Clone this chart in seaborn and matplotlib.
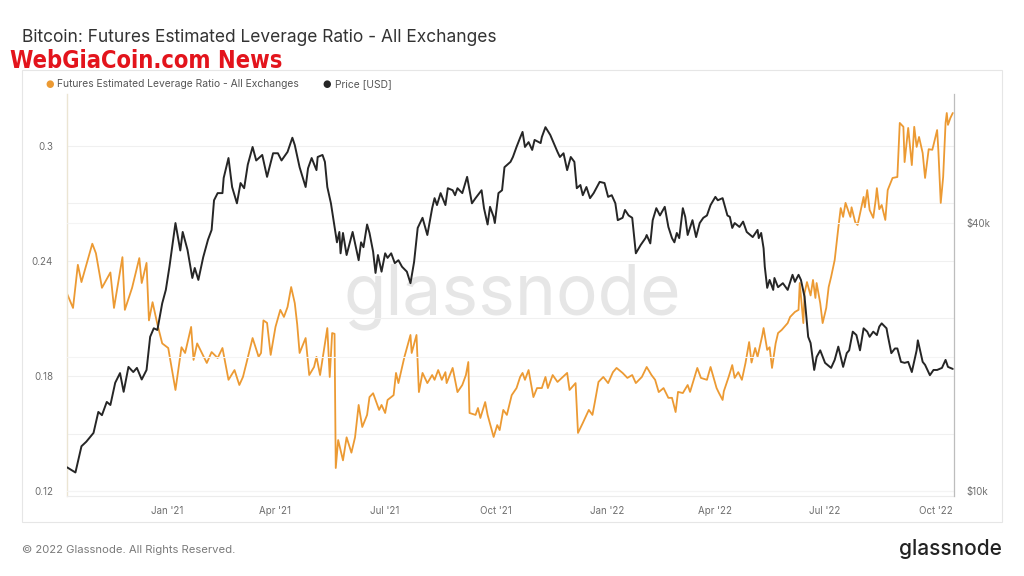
import pandas as pd
import matplotlib
matplotlib.use("Agg")
import matplotlib.pyplot as plt
import matplotlib.dates as mdates
from matplotlib.ticker import FixedLocator, FixedFormatter
from matplotlib.patches import Rectangle
import seaborn as sns

# ==================== DATA ====================
lev_dates = [
    "2020-10-10", "2020-10-15", "2020-10-19", "2020-10-22", "2020-10-31", "2020-11-03", "2020-11-08", "2020-11-15",
    "2020-11-18", "2020-11-25", "2020-11-27", "2020-12-03", "2020-12-09", "2020-12-11", "2020-12-15", "2020-12-17",
    "2020-12-20", "2020-12-24", "2020-12-28",
    "2021-01-02", "2021-01-08", "2021-01-13", "2021-01-16", "2021-01-21", "2021-01-23", "2021-01-26", "2021-02-03",
    "2021-02-07", "2021-02-12", "2021-02-16", "2021-02-21", "2021-02-26", "2021-03-02", "2021-03-05", "2021-03-08",
    "2021-03-13", "2021-03-18", "2021-03-20", "2021-03-22", "2021-03-25", "2021-03-28", "2021-04-01", "2021-04-05",
    "2021-04-08", "2021-04-11", "2021-04-14", "2021-04-17", "2021-04-19", "2021-04-21", "2021-04-26", "2021-04-29",
    "2021-05-03", "2021-05-05", "2021-05-08", "2021-05-14", "2021-05-16", "2021-05-18", "2021-05-20", "2021-05-21",
    "2021-05-23", "2021-05-27", "2021-05-30", "2021-06-03", "2021-06-06", "2021-06-09", "2021-06-12", "2021-06-16",
    "2021-06-18", "2021-06-21", "2021-06-26", "2021-06-28", "2021-07-01", "2021-07-03", "2021-07-08", "2021-07-10",
    "2021-07-12", "2021-07-17", "2021-07-22", "2021-07-23", "2021-07-27", "2021-07-29", "2021-08-01", "2021-08-05",
    "2021-08-09", "2021-08-11", "2021-08-14", "2021-08-17", "2021-08-20", "2021-08-21", "2021-08-26", "2021-08-30",
    "2021-09-03", "2021-09-06", "2021-09-08", "2021-09-09", "2021-09-14", "2021-09-16", "2021-09-18", "2021-09-22",
    "2021-09-24", "2021-09-29", "2021-10-02", "2021-10-04", "2021-10-07", "2021-10-10", "2021-10-14", "2021-10-18",
    "2021-10-21", "2021-10-23", "2021-10-25", "2021-10-28", "2021-11-01", "2021-11-04", "2021-11-08", "2021-11-11",
    "2021-11-13", "2021-11-17", "2021-11-21", "2021-11-29", "2021-12-01", "2021-12-06", "2021-12-08", "2021-12-12",
    "2021-12-17", "2021-12-20", "2021-12-22", "2021-12-25", "2021-12-29",
    "2022-01-02", "2022-01-06", "2022-01-09", "2022-01-14", "2022-01-18", "2022-01-22", "2022-01-25", "2022-01-30",
    "2022-02-03", "2022-02-07", "2022-02-10", "2022-02-13", "2022-02-17", "2022-02-21", "2022-02-24", "2022-02-27",
    "2022-03-01", "2022-03-05", "2022-03-09", "2022-03-11", "2022-03-14", "2022-03-17", "2022-03-20", "2022-03-25",
    "2022-03-28", "2022-04-02", "2022-04-04", "2022-04-07", "2022-04-08", "2022-04-12", "2022-04-15", "2022-04-17",
    "2022-04-20", "2022-04-23", "2022-04-26", "2022-04-29", "2022-05-01", "2022-05-04", "2022-05-06", "2022-05-10",
    "2022-05-11", "2022-05-14", "2022-05-16", "2022-05-18", "2022-05-21", "2022-05-23", "2022-05-26", "2022-05-31",
    "2022-06-02", "2022-06-06", "2022-06-09", "2022-06-10", "2022-06-13", "2022-06-14", "2022-06-16", "2022-06-19",
    "2022-06-21", "2022-06-23", "2022-06-24", "2022-06-27", "2022-06-29", "2022-07-02", "2022-07-04", "2022-07-06",
    "2022-07-09", "2022-07-12", "2022-07-14", "2022-07-16", "2022-07-18", "2022-07-22", "2022-07-23", "2022-07-26",
    "2022-07-28", "2022-08-02", "2022-08-03", "2022-08-05", "2022-08-07", "2022-08-10", "2022-08-12", "2022-08-13",
    "2022-08-15", "2022-08-17", "2022-08-20", "2022-08-22", "2022-08-26", "2022-08-30", "2022-09-01", "2022-09-04",
    "2022-09-05", "2022-09-08", "2022-09-11", "2022-09-13", "2022-09-15", "2022-09-17", "2022-09-20", "2022-09-22",
    "2022-09-25", "2022-09-28", "2022-09-29", "2022-10-02", "2022-10-03", "2022-10-05", "2022-10-07", "2022-10-09",
    "2022-10-10", "2022-10-11", "2022-10-13", "2022-10-15",
]
lev_values = [
    0.223, 0.2155, 0.238, 0.229, 0.249, 0.244, 0.226, 0.234,
    0.2155, 0.242, 0.2145, 0.226, 0.2415, 0.2285, 0.239, 0.209,
    0.2185, 0.207, 0.197,
    0.1946, 0.1727, 0.195, 0.192, 0.2056, 0.1884, 0.197, 0.1868,
    0.1925, 0.1894, 0.1946, 0.178, 0.1831, 0.1753, 0.1795, 0.187,
    0.1998, 0.19, 0.192, 0.209, 0.2077, 0.191, 0.2056, 0.2145,
    0.2108, 0.216, 0.2264, 0.218, 0.207, 0.192, 0.1998, 0.1805,
    0.1847, 0.19, 0.1805, 0.205, 0.1795, 0.2024, 0.202, 0.132,
    0.1466, 0.136, 0.148, 0.140, 0.148, 0.1649, 0.1534, 0.1597,
    0.169, 0.171, 0.1623, 0.1649, 0.1607, 0.1675, 0.170, 0.1816,
    0.1763, 0.19, 0.2014, 0.192, 0.2014, 0.1716, 0.1816, 0.1763,
    0.1805, 0.178, 0.1831, 0.178, 0.182, 0.1763, 0.1842, 0.1716,
    0.1753, 0.1805, 0.1873, 0.1607, 0.1597, 0.1633, 0.1581, 0.1664,
    0.1597, 0.1482, 0.1544, 0.1518, 0.1623, 0.1597, 0.170, 0.1737,
    0.1795, 0.1816, 0.178, 0.1831, 0.169, 0.1737, 0.1737, 0.1795,
    0.1737, 0.1805, 0.1769, 0.1816, 0.1727, 0.1763, 0.1503, 0.1555,
    0.1623, 0.1597, 0.1664, 0.1769, 0.1795,
    0.1763, 0.182, 0.1842, 0.1816, 0.179, 0.1805, 0.1763, 0.1795,
    0.1847, 0.1805, 0.178, 0.1716, 0.1737, 0.1686, 0.1686, 0.1612,
    0.1717, 0.1711, 0.1753, 0.1717, 0.178, 0.1842, 0.179, 0.178,
    0.1847, 0.1737, 0.1711, 0.1675, 0.172, 0.1795, 0.1857, 0.179,
    0.182, 0.178, 0.1868, 0.1977, 0.187, 0.1946, 0.19, 0.2014,
    0.205, 0.1936, 0.195, 0.1842, 0.197, 0.2024, 0.204, 0.2076,
    0.2108, 0.2134, 0.2145, 0.2285, 0.2076, 0.2233, 0.229, 0.222,
    0.2301, 0.2207, 0.2285, 0.218, 0.2076, 0.2155, 0.2264, 0.2316,
    0.2405, 0.2572, 0.2676, 0.263, 0.2703, 0.263, 0.268, 0.2603,
    0.2588, 0.2734, 0.268, 0.277, 0.2666, 0.2625, 0.2718, 0.278,
    0.267, 0.2692, 0.2614, 0.277, 0.2833, 0.2838, 0.312, 0.310,
    0.2916, 0.3094, 0.290, 0.310, 0.2995, 0.3047, 0.2963, 0.2833,
    0.2983, 0.298, 0.3005, 0.3083, 0.298, 0.2703, 0.2838, 0.312,
    0.3172, 0.311, 0.3146, 0.3172,
]

price_dates = [
    "2020-10-10", "2020-10-17", "2020-10-22", "2020-10-26", "2020-10-29", "2020-11-01", "2020-11-05", "2020-11-08",
    "2020-11-12", "2020-11-15", "2020-11-19", "2020-11-23", "2020-11-26", "2020-11-30", "2020-12-04", "2020-12-07",
    "2020-12-11", "2020-12-15", "2020-12-18", "2020-12-21", "2020-12-24", "2020-12-28", "2020-12-31",
    "2021-01-03", "2021-01-08", "2021-01-12", "2021-01-14", "2021-01-18", "2021-01-22", "2021-01-24", "2021-01-27",
    "2021-01-31", "2021-02-04", "2021-02-07", "2021-02-09", "2021-02-12", "2021-02-16", "2021-02-17", "2021-02-21",
    "2021-02-24", "2021-02-28", "2021-03-03", "2021-03-06", "2021-03-09", "2021-03-13", "2021-03-16", "2021-03-21",
    "2021-03-25", "2021-03-30", "2021-04-03", "2021-04-06", "2021-04-11", "2021-04-15", "2021-04-17", "2021-04-21",
    "2021-04-26", "2021-04-28", "2021-05-01", "2021-05-05", "2021-05-06", "2021-05-10", "2021-05-12", "2021-05-14",
    "2021-05-17", "2021-05-20", "2021-05-22", "2021-05-24", "2021-05-25", "2021-05-27", "2021-05-30", "2021-06-04",
    "2021-06-09", "2021-06-11", "2021-06-13", "2021-06-16", "2021-06-18", "2021-06-21", "2021-06-23", "2021-06-25",
    "2021-06-28", "2021-07-01", "2021-07-03", "2021-07-06", "2021-07-09", "2021-07-12", "2021-07-15", "2021-07-19",
    "2021-07-22", "2021-07-25", "2021-07-28", "2021-08-01", "2021-08-05", "2021-08-09", "2021-08-11", "2021-08-13",
    "2021-08-16", "2021-08-20", "2021-08-22", "2021-08-26", "2021-08-28", "2021-08-30", "2021-09-03", "2021-09-07",
    "2021-09-11", "2021-09-14", "2021-09-19", "2021-09-21", "2021-09-24", "2021-09-26", "2021-09-29", "2021-09-30",
    "2021-10-03", "2021-10-06", "2021-10-08", "2021-10-13", "2021-10-15", "2021-10-18", "2021-10-21", "2021-10-23",
    "2021-10-25", "2021-10-28", "2021-10-31", "2021-11-02", "2021-11-07", "2021-11-08", "2021-11-11", "2021-11-15",
    "2021-11-21", "2021-11-23", "2021-11-26", "2021-11-29", "2021-12-02", "2021-12-05", "2021-12-07", "2021-12-10",
    "2021-12-12", "2021-12-15", "2021-12-18", "2021-12-21", "2021-12-26", "2021-12-30",
    "2022-01-02", "2022-01-05", "2022-01-08", "2022-01-10", "2022-01-14", "2022-01-16", "2022-01-19", "2022-01-22",
    "2022-01-23", "2022-01-25", "2022-01-29", "2022-02-02", "2022-02-03", "2022-02-06", "2022-02-08", "2022-02-11",
    "2022-02-14", "2022-02-18", "2022-02-21", "2022-02-24", "2022-02-26", "2022-02-28", "2022-03-02", "2022-03-05",
    "2022-03-07", "2022-03-09", "2022-03-13", "2022-03-16", "2022-03-19", "2022-03-22", "2022-03-25", "2022-03-28",
    "2022-04-01", "2022-04-03", "2022-04-07", "2022-04-11", "2022-04-13", "2022-04-15", "2022-04-17", "2022-04-21",
    "2022-04-24", "2022-04-27", "2022-05-02", "2022-05-06", "2022-05-07", "2022-05-09", "2022-05-11", "2022-05-12",
    "2022-05-14", "2022-05-16", "2022-05-19", "2022-05-20", "2022-05-23", "2022-05-27", "2022-05-31", "2022-06-04",
    "2022-06-06", "2022-06-09", "2022-06-11", "2022-06-14", "2022-06-17", "2022-06-19", "2022-06-22", "2022-06-24",
    "2022-06-27", "2022-07-01", "2022-07-06", "2022-07-09", "2022-07-12", "2022-07-16", "2022-07-19", "2022-07-21",
    "2022-07-24", "2022-07-27", "2022-07-30", "2022-08-02", "2022-08-05", "2022-08-07", "2022-08-10", "2022-08-13",
    "2022-08-15", "2022-08-17", "2022-08-21", "2022-08-22", "2022-08-25", "2022-08-28", "2022-08-30", "2022-09-02",
    "2022-09-05", "2022-09-08", "2022-09-11", "2022-09-15", "2022-09-16", "2022-09-20", "2022-09-22", "2022-09-26",
    "2022-09-29", "2022-10-02", "2022-10-06", "2022-10-09", "2022-10-11", "2022-10-15",
]
price_values = [
    11300, 11000, 12600, 12900, 13200, 13500, 15050, 14800,
    15850, 15600, 17500, 18400, 16700, 19000, 18500, 18900,
    17800, 18700, 22200, 23200, 23000, 26400, 28300,
    31900, 40000, 34700, 38200, 34800, 30100, 31700, 29800,
    33500, 36700, 38600, 45000, 46700, 46700, 50500, 56000,
    48200, 44300, 49200, 47900, 54100, 59300, 55300, 56900,
    50800, 57400, 57400, 55300, 57800, 62200, 59900, 53400,
    48200, 53100, 56000, 52600, 56300, 56900, 54900, 48200,
    44300, 39200, 36200, 38200, 34200, 38000, 33900, 38200,
    33000, 36200, 35300, 39700, 38000, 34500, 30900, 33900,
    31100, 34200, 33400, 34200, 32500, 33000, 31900, 31100,
    29300, 32700, 39000, 41100, 37600, 43200, 45500, 43900,
    46700, 43900, 47900, 47400, 46200, 47900, 46700, 50800,
    44300, 45500, 47400, 43200, 39700, 43500, 41300, 40000,
    46700, 47400, 53400, 54900, 56300, 59300, 62200, 64100,
    59300, 60800, 58400, 61500, 60500, 62400, 65700, 63100,
    57800, 56300, 57400, 52600, 56300, 54900, 47900, 48700,
    46200, 48200, 45500, 46700, 49500, 49200,
    45800, 46200, 44300, 40600, 41100, 42800, 41600, 41100,
    38600, 34200, 35700, 37000, 37600, 36000, 40600, 43200,
    41600, 43500, 39200, 37000, 36200, 38000, 37000, 43200,
    41300, 37600, 40600, 37200, 40000, 41100, 41600, 43900,
    45800, 45000, 45500, 41600, 41300, 39000, 40000, 39200,
    40300, 38200, 37200, 38600, 37000, 38000, 35100, 31900,
    28600, 29800, 28300, 30100, 28700, 29300, 28300, 30600,
    29500, 30600, 29800, 27300, 22200, 21500, 18700, 20000,
    20700, 19400, 18900, 19700, 21100, 19000, 20400, 20700,
    22800, 22400, 20700, 23200, 22800, 22200, 22800, 22400,
    23400, 23800, 23200, 22400, 20400, 20900, 20900, 19500,
    19400, 19500, 18500, 20700, 21800, 19500, 19200, 18200,
    18700, 18700, 18900, 19700, 19000, 18800,
]

lev_ticks = [0.12, 0.18, 0.24, 0.30]
lev_tick_labels = ["0.12", "0.18", "0.24", "0.3"]
price_ticks = [10000, 40000]
price_tick_labels = ["$10k", "$40k"]

ORANGE = "#ec9a33"
DARK = "#262626"
GRID = "#f0f0f0"

assert len(lev_dates) == len(lev_values)
assert len(price_dates) == len(price_values)

lev = pd.DataFrame({"date": pd.to_datetime(lev_dates), "ratio": lev_values})
price = pd.DataFrame({"date": pd.to_datetime(price_dates), "price": price_values})

# ==================== FIGURE ====================
sns.set_style("white")
plt.rcParams["font.family"] = ["Inter", "DejaVu Sans"]

fig = plt.figure(figsize=(10.24, 5.76), dpi=100)
fig.patch.set_facecolor("white")

# chart panel frame
fig.patches.append(Rectangle((22 / 1024, 54 / 576), 980 / 1024, 452 / 576, transform=fig.transFigure,
                             fill=False, edgecolor="#e6e6e6", lw=0.8))

ax = fig.add_axes([67 / 1024, 80 / 576, 887 / 1024, 402 / 576])
ax.patch.set_visible(False)
ax2 = ax.twinx()

sns.lineplot(data=lev, x="date", y="ratio", ax=ax, color=ORANGE, lw=1.3)
sns.lineplot(data=price, x="date", y="price", ax=ax2, color=DARK, lw=1.4)

# left axis
ax.set_ylim(0.1174, 0.3271)
ax.yaxis.set_major_locator(FixedLocator(lev_ticks))
ax.yaxis.set_major_formatter(FixedFormatter(lev_tick_labels))
ax.yaxis.set_minor_locator(FixedLocator([0.15, 0.21, 0.27]))
ax.grid(axis="y", which="both", color=GRID, lw=0.8)
ax.set_axisbelow(True)

# right axis (log price)
ax2.set_yscale("log")
ax2.set_ylim(9740, 78000)
ax2.yaxis.set_major_locator(FixedLocator(price_ticks))
ax2.yaxis.set_major_formatter(FixedFormatter(price_tick_labels))
ax2.yaxis.set_minor_locator(FixedLocator([20000]))
ax2.yaxis.set_minor_formatter(FixedFormatter([""]))
ax2.grid(axis="y", which="both", color="#f4f4f4", lw=0.8)

# x axis
ax.set_xlim(pd.Timestamp("2020-10-10"), pd.Timestamp("2022-10-16"))
ax.xaxis.set_major_locator(mdates.MonthLocator(bymonth=[1, 4, 7, 10]))
ax.xaxis.set_major_formatter(mdates.DateFormatter("%b '%y"))

for a in (ax, ax2):
    a.set_xlabel("")
    a.set_ylabel("")
    a.tick_params(which="both", length=0, labelsize=7, labelcolor="#6e6e6e")
    for s in a.spines.values():
        s.set_visible(False)
ax.tick_params(axis="y", pad=10)
ax2.tick_params(axis="y", pad=9)
ax.tick_params(axis="x", pad=7)

ax.spines["left"].set_visible(True)
ax.spines["left"].set_color("#ebe5d3")
ax.spines["left"].set_linewidth(1.0)
ax.spines["bottom"].set_visible(True)
ax.spines["bottom"].set_color("#ececec")
ax2.spines["right"].set_visible(True)
ax2.spines["right"].set_color("#bdbdbd")
ax2.spines["right"].set_linewidth(0.9)
if ax.get_legend():
    ax.get_legend().remove()

# glassnode watermark
ax.text(0.502, 0.495, "glassnode", transform=ax.transAxes, ha="center", va="center",
        fontsize=50, color="#e6e6e6", zorder=0)

# titles and legend
fig.text(22 / 1024, 1 - 37 / 576, "Bitcoin: Futures Estimated Leverage Ratio - All Exchanges",
         fontsize=12.5, color="#333333", va="center", ha="left")
fig.text(10 / 1024, 1 - 61 / 576, "WebGiaCoin.com News", fontsize=17, fontweight="heavy",
         fontstretch="condensed", color="#e3141c", va="center", ha="left",
         family=["DejaVu Sans"])

fig.text(50 / 1024, 1 - 84 / 576, "●", color=ORANGE, fontsize=7, va="center", ha="center",
         family=["DejaVu Sans"])
fig.text(57 / 1024, 1 - 84 / 576, "Futures Estimated Leverage Ratio - All Exchanges",
         fontsize=7.4, color="#555555", va="center", ha="left")
fig.text(327 / 1024, 1 - 84 / 576, "●", color=DARK, fontsize=7, va="center", ha="center",
         family=["DejaVu Sans"])
fig.text(335 / 1024, 1 - 84 / 576, "Price [USD]", fontsize=7.4, color="#555555", va="center", ha="left")

# footer
fig.text(22 / 1024, 1 - 550 / 576, "© 2022 Glassnode. All Rights Reserved.", fontsize=8.1,
         color="#7a7a7a", va="center", ha="left")
fig.text(1002 / 1024, 1 - 549 / 576, "glassnode", fontsize=15, fontweight="medium", color="#222222",
         va="center", ha="right")

fig.savefig("out.png", dpi=100, facecolor="white")
